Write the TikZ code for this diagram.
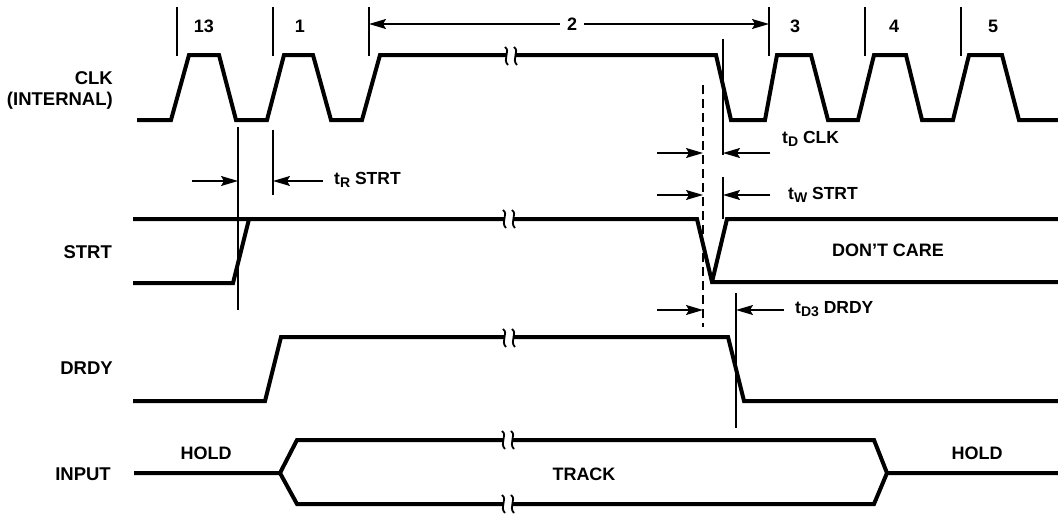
\documentclass[tikz,border=0pt]{standalone}
\usepackage{fontspec}
\setmainfont{Liberation Sans}
\usetikzlibrary{arrows.meta}
\newcommand\tsub[1]{\raisebox{-3.5pt}{\fontsize{14}{14}\selectfont #1}}
\begin{document}
\begin{tikzpicture}[x=1pt,y=-1pt,
  wave/.style={line width=4pt},
  tline/.style={line width=1.3pt},
  dline/.style={line width=1.5pt, dash pattern=on 9pt off 5pt},
  lbl/.style={font=\bfseries\fontsize{18}{20}\selectfont, inner sep=0pt},
  sig/.style={font=\bfseries\fontsize{18.5}{20}\selectfont, inner sep=0pt, anchor=east},
  dlbl/.style={font=\bfseries\fontsize{17.5}{20}\selectfont, inner sep=0pt, anchor=west},
  dimarr/.style={line width=1.3pt, -{Stealth[length=17pt,width=10pt,inset=3pt]}},
  brk/.pic={
    \fill[white] (-5,-6) rectangle (5,6);
    \draw[line width=1.8pt] (-6,-9) .. controls (0,-5) and (-9,3) .. (-3,9);
    \draw[line width=1.8pt] (3,-9) .. controls (9,-5) and (0,3) .. (6,9);
  }
]
\useasboundingbox (0,0) rectangle (1058,514);

% signal names
\node[sig] (nclk) at (113,78) {CLK};
\node[sig] (nint) at (113,101) {(INTERNAL)};
\node[sig] (nstrt) at (112,252) {STRT};
\node[sig] (ndrdy) at (113,368) {DRDY};
\node[sig] (ninput) at (111,474) {INPUT};

% CLK
\draw[wave] (137,120) -- (171,120) -- (189,55) -- (219,55) -- (236,120) -- (267,120)
  -- (284,55) -- (313,55) -- (331,120) -- (362,120) -- (380,55) -- (716,55)
  -- (731,120) -- (765,120) -- (777,55) -- (811,55) -- (828,120) -- (858,120)
  -- (874,55) -- (906,55) -- (922,120) -- (953,120) -- (969,55) -- (1002,55)
  -- (1019,120) -- (1058,120);
\pic at (511,56) {brk};

% cycle ticks
\foreach \x in {177,273,369,769,865,961} \draw[tline] (\x,7) -- (\x,56);
\node[lbl] (c13) at (204,26) {13};
\node[lbl] (c1) at (300,26) {1};
\node[lbl] (c3) at (795,26) {3};
\node[lbl] (c4) at (894,26) {4};
\node[lbl] (c5) at (993,26) {5};
\coordinate (t2a) at (369,24);
\coordinate (t2b) at (769,24);
\draw[dimarr, {Stealth[length=17pt,width=10pt,inset=3pt]}-{Stealth[length=17pt,width=10pt,inset=3pt]}] (t2a) -- (t2b);
\node[lbl, fill=white, inner xsep=7pt, inner ysep=1pt] (c2) at (572,24) {2};

% STRT
\draw[wave] (133,219) -- (697,219) -- (712,282) -- (1058,282);
\draw[wave] (712,282) -- (727,219) -- (1058,219);
\draw[wave] (133,283) -- (233,283) -- (249,219);
\pic at (509,219) {brk};
\node[lbl] (dc) at (888,250) {DON'T CARE};

% DRDY
\draw[wave] (133,401) -- (265,401) -- (281,337) -- (728,337) -- (744,401) -- (1058,401);
\pic at (509,338) {brk};

% INPUT
\draw[wave] (134,473) -- (280,473) -- (297,440) -- (874,440) -- (887,473) -- (1058,473);
\draw[wave] (280,473) -- (297,504) -- (874,504) -- (887,473);
\pic at (508,440) {brk};
\pic at (508,504) {brk};
\node[lbl] (hold1) at (206,453) {HOLD};
\node[lbl] (hold2) at (977,453) {HOLD};
\node[lbl] (track) at (584,474) {TRACK};

% reference lines
\draw[tline] (238,127) -- (238,310);
\draw[tline] (273,130) -- (273,195);
\draw[tline] (723,39) -- (723,155);
\draw[tline] (723,177) -- (723,219);
\draw[tline] (736,293) -- (736,428);
\draw[dline] (703,85) -- (703,327);

% tR STRT
\coordinate (r1) at (238,181); \coordinate (r1s) at (192,181);
\coordinate (r2) at (273,181); \coordinate (r2s) at (323,181);
\draw[dimarr] (r1s) -- (r1);
\draw[dimarr] (r2s) -- (r2);
\node[dlbl] (ltr) at (334,180) {t\tsub{R} STRT};

% tD CLK
\coordinate (d1) at (703,153); \coordinate (d1s) at (657,153);
\coordinate (d2) at (723,153); \coordinate (d2s) at (770,153);
\draw[dimarr] (d1s) -- (d1);
\draw[dimarr] (d2s) -- (d2);
\node[dlbl] (ltd) at (782,139) {t\tsub{D} CLK};

% tW STRT
\coordinate (w1) at (703,195); \coordinate (w1s) at (657,195);
\coordinate (w2) at (723,195); \coordinate (w2s) at (770,195);
\draw[dimarr] (w1s) -- (w1);
\draw[dimarr] (w2s) -- (w2);
\node[dlbl] (ltw) at (788,195) {t\tsub{W} STRT};

% tD3 DRDY
\coordinate (e1) at (703,310); \coordinate (e1s) at (657,310);
\coordinate (e2) at (736,310); \coordinate (e2s) at (784,310);
\draw[dimarr] (e1s) -- (e1);
\draw[dimarr] (e2s) -- (e2);
\node[dlbl] (ltd3) at (795,309) {t\tsub{D3} DRDY};
\end{tikzpicture}
\end{document}
